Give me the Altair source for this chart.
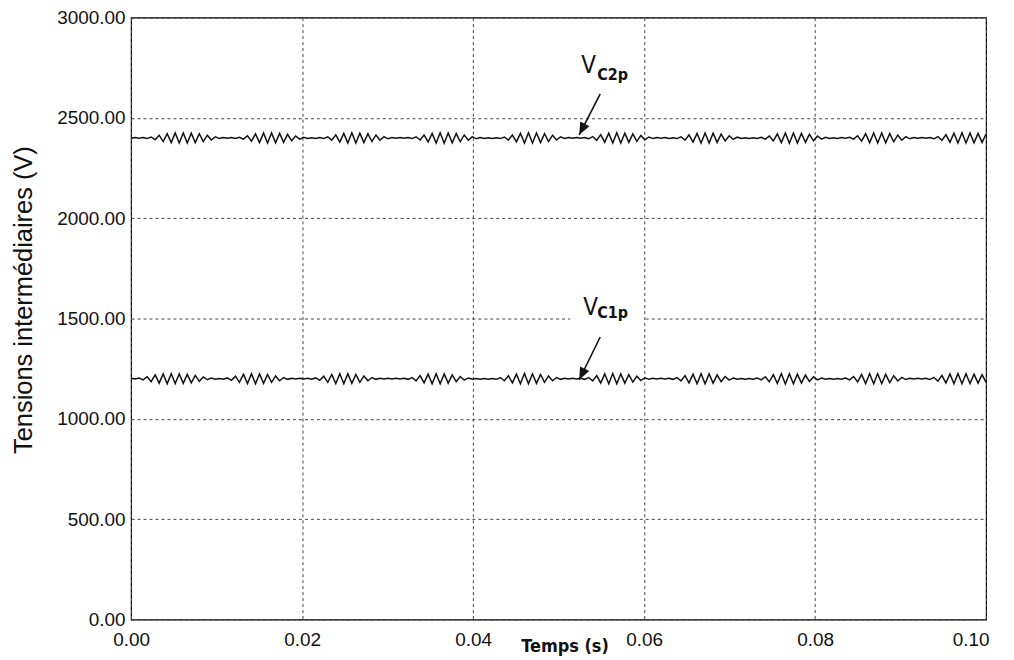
import altair as alt
import numpy as np
import pandas as pd

# ---------------- data ----------------
T_END = 0.1  # s, end of record

VC2P_LEVEL = 2400  # V, mean level of V_C2p
VC1P_LEVEL = 1200  # V, mean level of V_C1p

# ripple around the mean level (V), one value per half period of the ripple
vc2p_ripple = [
    -1,
    2, -1, 2, -3, 5, -9, 14, -18, 21, -23, 25, -25, 25, -25, 24, -23, 21, -18, 14, -10, 6, -3, 2, -1,
    2, -2, 3, -6, 11, -16, 20, -23, 25, -25, 25, -24, 23, -21, 18, -14, 10, -6, 3, -2, 1,
    -2, 2, -3, 6, -11, 16, -20, 23, -25, 26, -25, 24, -23, 21, -18, 15, -11, 7, -4, 2, -1, 2,
    -1, 2, -3, 6, -10, 15, -20, 23, -25, 26, -26, 25, -24, 22, -19, 15, -11, 7, -4, 2, -2, 1,
    -2, 1, -3, 5, -10, 15, -19, 23, -25, 26, -25, 25, -23, 21, -18, 14, -10, 6, -3, 2, -1, 2,
    -1, 2, -4, 7, -12, 17, -21, 24, -25, 26, -25, 24, -22, 20, -17, 13, -9, 5, -3, 2, -1, 2,
    -2, 1, -3, 6, -11, 16, -20, 23, -25, 25, -25, 24, -22, 19, -15, 11, -7, 4, -2, 1, -2,
    1, -2, 3, -6, 10, -15, 20, -23, 25, -26, 25, -25, 23, -21, 18, -14, 10, -6, 3, -2, 1, -2,
    2, -1, 3, -6, 11, -16, 21, -24, 25, -25, 25, -24, 22, -19, 15, -11, 7, -4, 2, -1, 2,
    -1, 2, -4, 7, -12, 17, -21, 24, -25, 26, -25, 25, -24, 23, -22, 20,
]

vc1p_ripple = [
    2, -1, 3, -6, 10, -15, 19, -22, 24, -25, 25, -24, 24, -23, 22, -20, 17, -13, 9, -5, 3, -2,
    1, -2, 4, -8, 13, -18, 22, -24, 25, -25, 24, -23, 21, -18, 14, -10, 6, -3, 2, -1, 2, -1,
    2, -2, 4, -8, 13, -18, 21, -24, 25, -25, 25, -23, 21, -18, 14, -10, 6, -3, 2, -1, 2, -1, 2,
    -1, 2, -3, 6, -11, 16, -20, 23, -25, 25, -25, 24, -22, 19, -15, 11, -7, 4, -2, 1, -2, 1,
    -2, 1, -3, 6, -10, 15, -20, 23, -25, 26, -25, 24, -23, 21, -18, 14, -10, 6, -3, 2, -1, 2, -1,
    2, -3, 6, -11, 16, -21, 24, -25, 26, -25, 24, -22, 20, -17, 13, -9, 5, -3, 2, -1, 2,
    -1, 2, -3, 6, -11, 16, -20, 23, -25, 25, -25, 24, -22, 19, -15, 11, -7, 4, -2, 1, -2, 1,
    -2, 3, -6, 10, -15, 20, -23, 25, -26, 25, -25, 23, -21, 18, -14, 10, -6, 3, -2, 1, -2, 1,
    -2, 3, -6, 11, -16, 21, -24, 25, -25, 25, -24, 22, -19, 15, -11, 7, -4, 2, -1, 2, -1,
    2, -4, 7, -12, 17, -21, 24, -25, 26, -25, 25, -24, 23, -22, 20, -18,
]

x_ticks = [0.0, 0.02, 0.04, 0.06, 0.08, 0.10]
y_ticks = [0, 500, 1000, 1500, 2000, 2500, 3000]

# annotations (data units)
ann_main = ["V", "V"]
ann_sub = ["C2p", "C1p"]
ann_main_t = [0.05265, 0.05289]
ann_main_v = [2724, 1517]
ann_sub_t = [0.05452, 0.05452]
ann_sub_v = [2690, 1503]
arrow_tail_t = [0.05487, 0.05487]
arrow_tail_v = [2620, 1408]
arrow_tip_t = [0.05242, 0.05242]
arrow_tip_v = [2416, 1195]
arrow_angle = [207, 206]
mask_t = [0.05137, 0.05988]
mask_v = [1490, 1511]

# ---------------- build tables ----------------
n2 = len(vc2p_ripple)
n1 = len(vc1p_ripple)
t2 = np.linspace(0, T_END, n2)
t1 = np.linspace(0, T_END, n1)
lines = pd.concat([
    pd.DataFrame({"t": t2, "v": VC2P_LEVEL + np.array(vc2p_ripple), "s": "VC2p"}),
    pd.DataFrame({"t": t1, "v": VC1P_LEVEL + np.array(vc1p_ripple), "s": "VC1p"}),
])

main_df = pd.DataFrame({"t": ann_main_t, "v": ann_main_v, "txt": ann_main})
sub_df = pd.DataFrame({"t": ann_sub_t, "v": ann_sub_v, "txt": ann_sub})
arrow_df = pd.DataFrame({
    "t": arrow_tail_t, "v": arrow_tail_v,
    "t2": arrow_tip_t, "v2": arrow_tip_v,
})
head_df = pd.DataFrame({"t": arrow_tip_t, "v": arrow_tip_v, "ang": arrow_angle})
mask_df = pd.DataFrame({"t": [mask_t[0]], "t2": [mask_t[1]], "v": [mask_v[0]], "v2": [mask_v[1]]})

XS = alt.Scale(domain=[0, T_END], nice=False, zero=False)
YS = alt.Scale(domain=[0, 3000], nice=False, zero=False)

INK = "#111111"
SANS = "Liberation Sans, Arial, Helvetica, sans-serif"
NARROW = "DejaVu Sans Condensed, Liberation Sans, sans-serif"

x_axis = alt.Axis(
    values=x_ticks, format=".2f", title="Temps (s)",
    labelFont=SANS, labelFontSize=19, labelColor=INK, labelPadding=11,
    labelFlush=False, labelOverlap=False,
    labelAlign=alt.ExprRef(expr="datum.value > 0.099 ? 'right' : 'center'"),
    labelOffset=alt.ExprRef(expr="datum.value > 0.099 ? 3 : 0"),
    ticks=False, domain=False,
    grid=True, gridColor="#444444", gridDash=[3, 3], gridWidth=1,
    titleFont=NARROW, titleFontSize=18, titleFontWeight="bold", titleColor=INK,
    titleX=435, titleY=32.5, titleBaseline="alphabetic", titleAnchor="middle",
)
y_axis = alt.Axis(
    values=y_ticks, format=".2f", title="Tensions intermédiaires (V)",
    labelFont=SANS, labelFontSize=19, labelColor=INK, labelPadding=6,
    labelOverlap=False,
    ticks=False, domain=False,
    grid=True, gridColor="#444444", gridDash=[3, 3], gridWidth=1,
    titleFont=SANS, titleFontSize=25.5, titleFontWeight="normal", titleColor=INK,
    titleX=-100, titleY=283, titleBaseline="alphabetic", titleAngle=-90,
    titleAnchor="middle",
)

curve = alt.Chart(lines).mark_line(color=INK, strokeWidth=1.5).encode(
    x=alt.X("t:Q", scale=XS, axis=x_axis),
    y=alt.Y("v:Q", scale=YS, axis=y_axis),
    detail="s:N",
)

white = alt.Chart(mask_df).mark_rect(color="white").encode(
    x=alt.X("t:Q", scale=XS), x2="t2:Q",
    y=alt.Y("v:Q", scale=YS), y2="v2:Q",
)

shaft = alt.Chart(arrow_df).mark_rule(color=INK, strokeWidth=1.6).encode(
    x=alt.X("t:Q", scale=XS), x2="t2:Q",
    y=alt.Y("v:Q", scale=YS), y2="v2:Q",
)

head = alt.Chart(head_df).mark_point(
    shape="M0,0L0.42,1L-0.42,1Z", filled=True, color=INK, opacity=1, size=600,
).encode(
    x=alt.X("t:Q", scale=XS),
    y=alt.Y("v:Q", scale=YS),
    angle=alt.Angle("ang:Q", scale=None),
)

main_txt = alt.Chart(main_df).mark_text(
    font=NARROW, fontSize=24, color=INK, align="left", baseline="alphabetic",
).encode(
    x=alt.X("t:Q", scale=XS),
    y=alt.Y("v:Q", scale=YS),
    text="txt:N",
)

sub_txt = alt.Chart(sub_df).mark_text(
    font=NARROW, fontSize=16, fontWeight="bold", color=INK, align="left", baseline="alphabetic",
).encode(
    x=alt.X("t:Q", scale=XS),
    y=alt.Y("v:Q", scale=YS),
    text="txt:N",
)

chart = alt.layer(curve, white, shaft, head, main_txt, sub_txt).properties(
    width=858, height=604,
    padding={"left": 123.5, "top": 8.5, "right": 20, "bottom": 36},
    autosize=alt.AutoSizeParams(type="none"),
).configure_view(stroke="#000000", strokeWidth=1.2)

chart.save("out.html", embed_options={"renderer": "svg", "actions": False})
